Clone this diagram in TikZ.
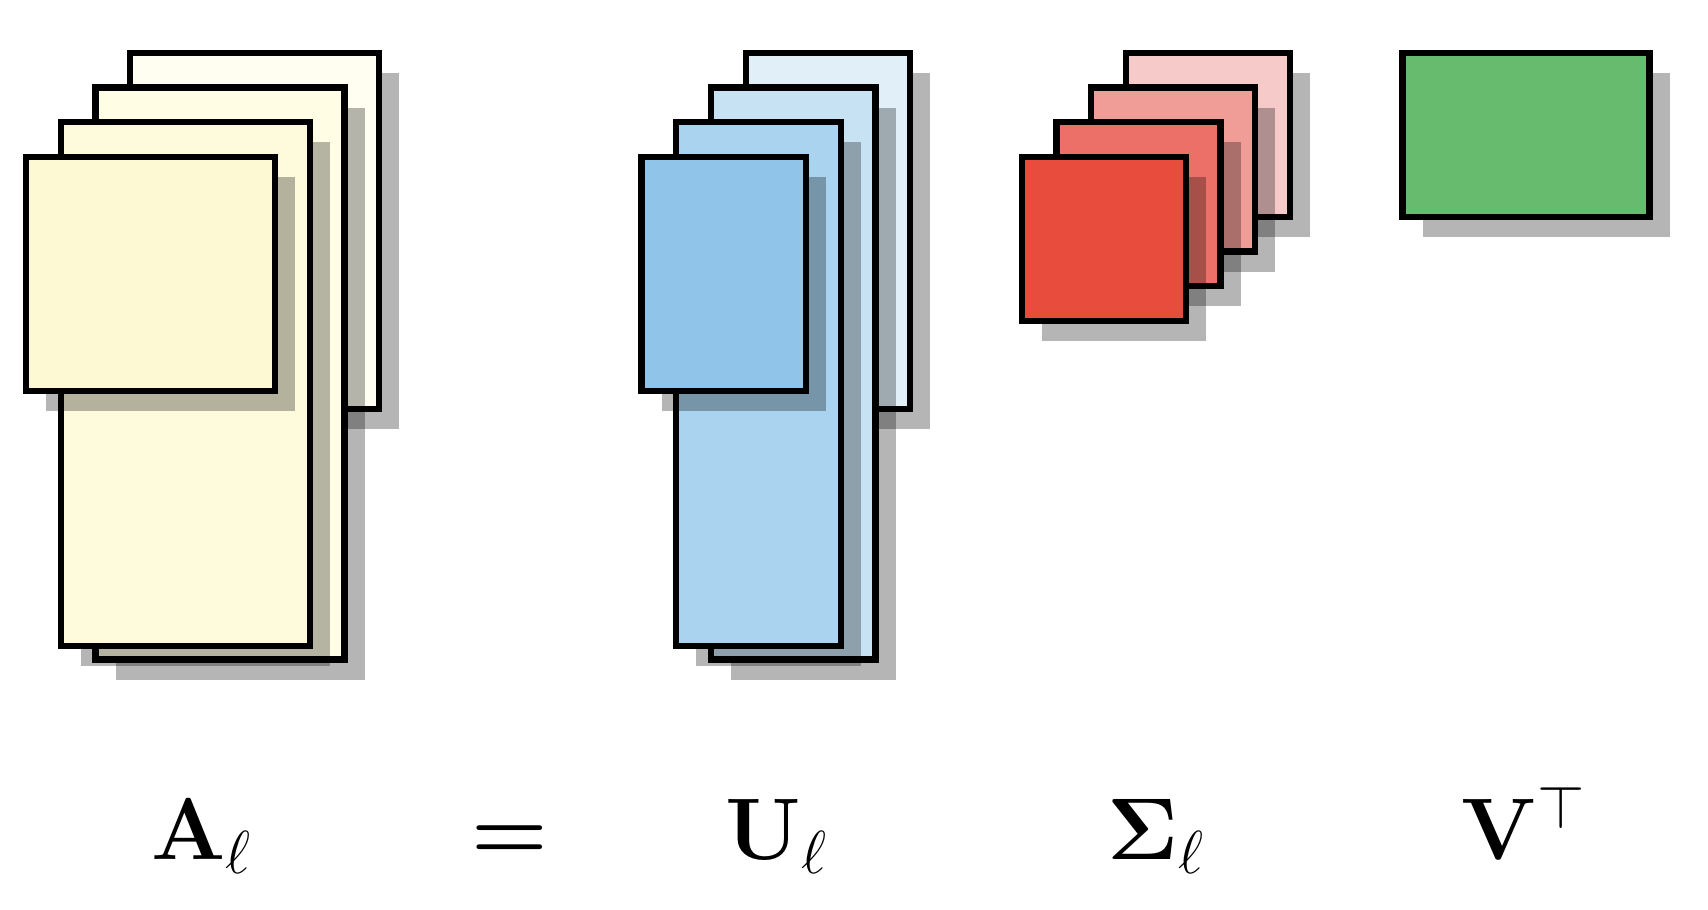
\documentclass[tikz,border=0pt]{standalone}
\usepackage{amsmath}
\usepackage{amssymb}
\usepackage{tikz}
\usepackage{xcolor}
\usetikzlibrary{positioning, calc}

\definecolor{yelA}{HTML}{FFFEF0}
\definecolor{yelB}{HTML}{FFFDE4}
\definecolor{yelC}{HTML}{FEFADC}
\definecolor{yelD}{HTML}{FDF9D3}
\definecolor{bluA}{HTML}{E1EFF9}
\definecolor{bluB}{HTML}{C7E2F3}
\definecolor{bluC}{HTML}{A9D3EE}
\definecolor{bluD}{HTML}{90C5E9}
\definecolor{redA}{HTML}{F7CACA}
\definecolor{redB}{HTML}{F09D98}
\definecolor{redC}{HTML}{EC7068}
\definecolor{redD}{HTML}{E74C3C}
\definecolor{grnA}{HTML}{67BB6F}

\begin{document}
\begin{tikzpicture}[x=0.01cm, y=-0.01cm,
    sheet/.style={draw=black, line width=1.8pt},
    shadowbox/.style={fill=black, opacity=0.29},
    lbl/.style={anchor=base, font=\fontsize{26.5}{32}\selectfont}]
\useasboundingbox (0,0) rectangle (1708,910);

% A stack
\foreach \k/\h/\col in {0/356/yelA, 1/572/yelB, 2/524/yelC, 3/234/yelD} {
    \pgfmathsetmacro{\x}{130.2 - 34.7*\k}
    \pgfmathsetmacro{\y}{52.9 + 34.7*\k}
    \fill[shadowbox] (\x+20,\y+20) rectangle ++(249,\h);
    \draw[sheet, fill=\col] (\x,\y) rectangle ++(249,\h);
}

% U stack
\foreach \k/\h/\col in {0/356/bluA, 1/572/bluB, 2/524/bluC, 3/234/bluD} {
    \pgfmathsetmacro{\x}{745.7 - 34.7*\k}
    \pgfmathsetmacro{\y}{52.9 + 34.7*\k}
    \fill[shadowbox] (\x+20,\y+20) rectangle ++(164.5,\h);
    \draw[sheet, fill=\col] (\x,\y) rectangle ++(164.5,\h);
}

% Sigma stack
\foreach \k/\col in {0/redA, 1/redB, 2/redC, 3/redD} {
    \pgfmathsetmacro{\x}{1125.9 - 34.7*\k}
    \pgfmathsetmacro{\y}{52.9 + 34.7*\k}
    \fill[shadowbox] (\x+20,\y+20) rectangle ++(164,164);
    \draw[sheet, fill=\col] (\x,\y) rectangle ++(164,164);
}

% V transposed
\fill[shadowbox] (1422.6,72.9) rectangle ++(247,164);
\draw[sheet, fill=grnA] (1402.6,52.9) rectangle ++(247,164);

% labels
\node[lbl] (labA) at (202,860) {$\mathbf{A}_\ell$};
\node[lbl] (labEq) at (510,860) {$\boldsymbol{=}$};
\node[lbl] (labU) at (777,860) {$\mathbf{U}_\ell$};
\node[lbl] (labS) at (1156,860) {$\mathbf{\Sigma}_\ell$};
\node[lbl] (labV) at (1524,860) {$\mathbf{V}^\top$};
\end{tikzpicture}
\end{document}
